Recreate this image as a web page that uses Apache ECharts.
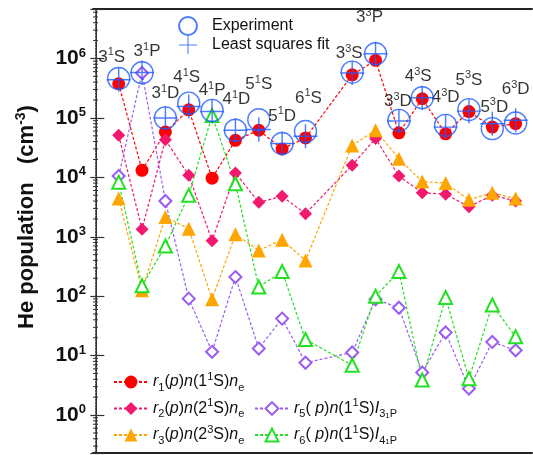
<!DOCTYPE html>
<html>
<head>
<meta charset="utf-8">
<script src="https://cdn.jsdelivr.net/npm/echarts@6/dist/echarts.min.js"></script>
<style>
  html, body { margin: 0; padding: 0; background: #fff; }
  #chart { width: 533px; height: 455px; }
</style>
</head>
<body>
<div id="chart"></div>
<script>
// states along x (slot 10 left empty between singlets and triplets)
const stateN = [3, 3, 3, 4, 4, 4, 5, 5, 6, 3, 3, 3, 4, 4, 5, 5, 6]
const stateSpin = [1, 1, 1, 1, 1, 1, 1, 1, 1, 3, 3, 3, 3, 3, 3, 3, 3]
const stateL = ['S', 'P', 'D', 'S', 'P', 'D', 'S', 'D', 'S', 'S', 'P', 'D', 'S', 'D', 'S', 'D', 'D']
const xSlot = [1, 2, 3, 4, 5, 6, 7, 8, 9, 11, 12, 13, 14, 15, 16, 17, 18]

// populations (cm^-3)
const experiment = [4.6e5, 5.75e5, 1.0e5, 1.77e5, 1.34e5, 6.2e4, 9.3e4, 3.7e4, 5.9e4, 5.9e5, 1.2e6, 9.1e4, 2.18e5, 7.5e4, 1.38e5, 6.6e4, 8.2e4]
const fit = [4.4e5, 5.8e5, 1.0e5, 1.56e5, 1.28e5, 6.2e4, 6.4e4, 3.7e4, 4.9e4, 5.7e5, 1.2e6, 8.9e4, 2.18e5, 7.0e4, 1.3e5, 8.0e4, 9.1e4]
const r1 = [3.76e5, 1.31e4, 5.8e4, 1.37e5, 9.7e3, 4.2e4, 6.2e4, 3.0e4, 4.6e4, 5.3e5, 9.3e5, 5.6e4, 2.1e5, 5.4e4, 1.28e5, 7.0e4, 8.0e4]
const r2 = [5.1e4, 1.34e3, 4.3e4, 1.08e4, 8.6e2, 1.18e4, 3.8e3, 4.8e3, 2.45e3, 1.6e4, 4.5e4, 1.05e4, 5.5e3, 5.2e3, 3.2e3, 5.0e3, 4.0e3]
const r3 = [4.4e3, 1.26e2, 2.15e3, 1.37e3, 89, 1.1e3, 5.9e2, 8.9e2, 4.0e2, 3.45e4, 6.2e4, 2.05e4, 8.5e3, 8.0e3, 4.2e3, 5.5e3, 4.4e3]
const r5 = [1.05e4, 5.7e5, 4.0e3, 91, 11.6, 2.1e2, 13.2, 42, 7.6, 11.3, 89, 64, 5.2, 24.5, 2.8, 17, 12.3]
const r6 = [8.3e3, 1.5e2, 7.0e2, 5.0e3, 1.1e5, 7.8e3, 1.43e2, 2.6e2, 18.7, 6.9, 100, 2.6e2, 3.9, 95, 4.1, 71, 20.7]

// where each state name sits relative to the top of its experiment circle
const labelOffsets = [[-7, 0], [5, 0], [0, -3], [-2, -4], [0, 2], [1, -9], [0, -14], [0, -6], [3, -12],
  [-3, 3], [-6, -15], [-1, 3], [-4, 0], [0, -6], [0, -8], [2, 0], [0, -12]]

const xMin = -0.1
const xMax = 18.7
const yMin = 0.23
const yMax = 6.8e6

const font = 'Liberation Sans, Arial, sans-serif'
const minorTicks = []
for (let e = -1; e <= 6; e++) {
  for (let k = 2; k <= 9; k++) {
    const v = k * Math.pow(10, e)
    if (v > yMin && v < yMax) minorTicks.push(v)
  }
}

const pts = vals => vals.map((v, i) => [xSlot[i], v])

const legendText = {
  r1: '{i|r}{sub|1}{n|(}{i|p}{n|)}{i|n}{n|(1}{sup|1}{n|S)}{i|n}{sub|e}',
  r2: '{i|r}{sub|2}{n|(}{i|p}{n|)}{i|n}{n|(2}{sup|1}{n|S)}{i|n}{sub|e}',
  r3: '{i|r}{sub|3}{n|(}{i|p}{n|)}{i|n}{n|(2}{sup|3}{n|S)}{i|n}{sub|e}',
  r5: '{i|r}{sub|5}{n|( }{i|p}{n|)}{i|n}{n|(1}{sup|1}{n|S)}{i|I}{sub|3}{ss|1}{sub|P}',
  r6: '{i|r}{sub|6}{n|( }{i|p}{n|)}{i|n}{n|(1}{sup|1}{n|S)}{i|I}{sub|4}{ss|1}{sub|P}'
}
const legendRich = {
  i: { fontFamily: font, fontSize: 16, fontStyle: 'italic', lineHeight: 22, color: '#111' },
  n: { fontFamily: font, fontSize: 16, lineHeight: 22, color: '#111' },
  sub: { fontFamily: font, fontSize: 11, lineHeight: 12, verticalAlign: 'bottom', color: '#111' },
  sup: { fontFamily: font, fontSize: 11, lineHeight: 12, verticalAlign: 'top', color: '#111' },
  ss: { fontFamily: font, fontSize: 8, lineHeight: 16, verticalAlign: 'bottom', color: '#111' }
}

const dotted = color => ({ color: color, width: 1.2, type: [3, 2] })

const lineSeries = (name, data, color, symbol, size, extra) => Object.assign({
  name: name,
  type: 'line',
  data: pts(data),
  symbol: symbol,
  symbolSize: size,
  lineStyle: dotted(color),
  itemStyle: { color: color },
  z: 2
}, extra || {})

const rLegend = (names, left, top) => ({
  data: names,
  orient: 'vertical', left: left, top: top, height: 120,
  padding: 0,
  itemWidth: 34, itemHeight: 16, itemGap: 4.5,
  selectedMode: false,
  formatter: name => legendText[name],
  textStyle: { rich: legendRich }
})

const option = {
  animation: false,
  backgroundColor: '#fff',
  grid: { left: 93, right: 1, top: 9, bottom: 2 },
  xAxis: [
    {
      type: 'value', min: xMin, max: xMax, position: 'bottom',
      axisLine: { lineStyle: { color: '#222', width: 2 } },
      axisTick: { show: false }, axisLabel: { show: false }, splitLine: { show: false }
    },
    {
      type: 'value', min: xMin, max: xMax, position: 'top',
      axisLine: { lineStyle: { color: '#222', width: 2 } },
      axisTick: { show: false }, axisLabel: { show: false }, splitLine: { show: false }
    }
  ],
  yAxis: [
    {
      type: 'log', logBase: 10, min: yMin, max: yMax, position: 'left',
      axisLine: { lineStyle: { color: '#333', width: 2 } },
      axisTick: { inside: true, length: 9, lineStyle: { color: '#333', width: 1.2 } },
      splitLine: { show: false },
      axisLabel: {
        margin: 7,
        formatter: v => {
          const e = Math.log10(v)
          if (Math.abs(e - Math.round(e)) > 1e-6) return ''
          return '{b|10}{s|' + Math.round(e) + '}'
        },
        rich: {
          b: { fontFamily: font, fontSize: 21, fontWeight: 'bold', lineHeight: 24, color: '#111' },
          s: { fontFamily: font, fontSize: 13, fontWeight: 'bold', lineHeight: 13, verticalAlign: 'top', color: '#111' }
        }
      }
    },
    {
      type: 'log', logBase: 10, min: yMin, max: yMax, position: 'right',
      axisLine: { lineStyle: { color: '#999', width: 1, type: [1, 2] } },
      axisTick: { inside: true, length: 5, lineStyle: { color: '#333', width: 1.2 } },
      axisLabel: { show: false }, splitLine: { show: false }
    }
  ],
  graphic: [{
    type: 'text',
    x: 27,
    y: 217,
    rotation: Math.PI / 2,
    style: {
      text: '{b|He population   (cm}{s|-3}{b|)}',
      align: 'center',
      verticalAlign: 'middle',
      rich: {
        b: { fontFamily: font, fontSize: 22, fontWeight: 'bold', lineHeight: 26, fill: '#111' },
        s: { fontFamily: font, fontSize: 14, fontWeight: 'bold', lineHeight: 14, verticalAlign: 'top', fill: '#111' }
      }
    }
  }],
  legend: [
    {
      data: ['Experiment', 'Least squares fit'],
      orient: 'vertical', left: 178, top: 16, height: 60,
      padding: 0,
      itemWidth: 38, itemHeight: 18, itemGap: 0,
      selectedMode: false,
      textStyle: { fontFamily: font, fontSize: 16, color: '#111', lineHeight: 18 }
    },
    rLegend(['r1', 'r2', 'r3'], 113, 371),
    rLegend(['r5', 'r6'], 254, 397.5)
  ],
  series: [
    {
      name: 'minor',
      type: 'custom',
      silent: true,
      data: minorTicks.map(v => [xMin, v]),
      renderItem: (params, api) => {
        const y = api.coord([xMin, api.value(1)])[1]
        const x0 = params.coordSys.x
        return {
          type: 'line',
          shape: { x1: x0, y1: y, x2: x0 + 5, y2: y },
          style: { stroke: '#333', lineWidth: 1 }
        }
      },
      z: 1
    },
    lineSeries('r1', r1, '#ff0000', 'circle', 13),
    lineSeries('r2', r2, '#f2186e', 'diamond', 13),
    lineSeries('r3', r3, '#ffa500', 'triangle', 14),
    lineSeries('r5', r5, '#9b5cf0', 'emptyDiamond', 12, { itemStyle: { color: '#9b5cf0', borderWidth: 1 } }),
    lineSeries('r6', r6, '#22e022', 'emptyTriangle', 13, { itemStyle: { color: '#22e022', borderWidth: 1.2 } }),
    {
      name: 'Experiment',
      type: 'scatter',
      data: experiment.map((v, i) => ({
        value: [xSlot[i], v],
        label: {
          show: true,
          position: 'top',
          distance: 0,
          offset: labelOffsets[i],
          formatter: stateN[i] + '{s|' + stateSpin[i] + '}' + stateL[i]
        }
      })),
      symbol: 'circle',
      symbolSize: 22,
      itemStyle: { color: 'rgba(0,0,0,0)', borderColor: '#1f5cff', borderWidth: 1.4 },
      label: {
        fontFamily: font, fontSize: 17, color: '#000', lineHeight: 20,
        rich: { s: { fontFamily: font, fontSize: 11, lineHeight: 11, verticalAlign: 'top', color: '#000' } }
      },
      z: 4
    },
    {
      name: 'Least squares fit',
      type: 'scatter',
      data: pts(fit),
      symbol: 'path://M-1,-0.06H1V0.06H-1Z M-0.06,-1H0.06V1H-0.06Z',
      symbolSize: 24,
      symbolKeepAspect: true,
      itemStyle: { color: '#1f5cff' },
      z: 5
    }
  ]
}

const chart = echarts.init(document.getElementById('chart'), null, { renderer: 'canvas' })
chart.setOption(option)
</script>
</body>
</html>
